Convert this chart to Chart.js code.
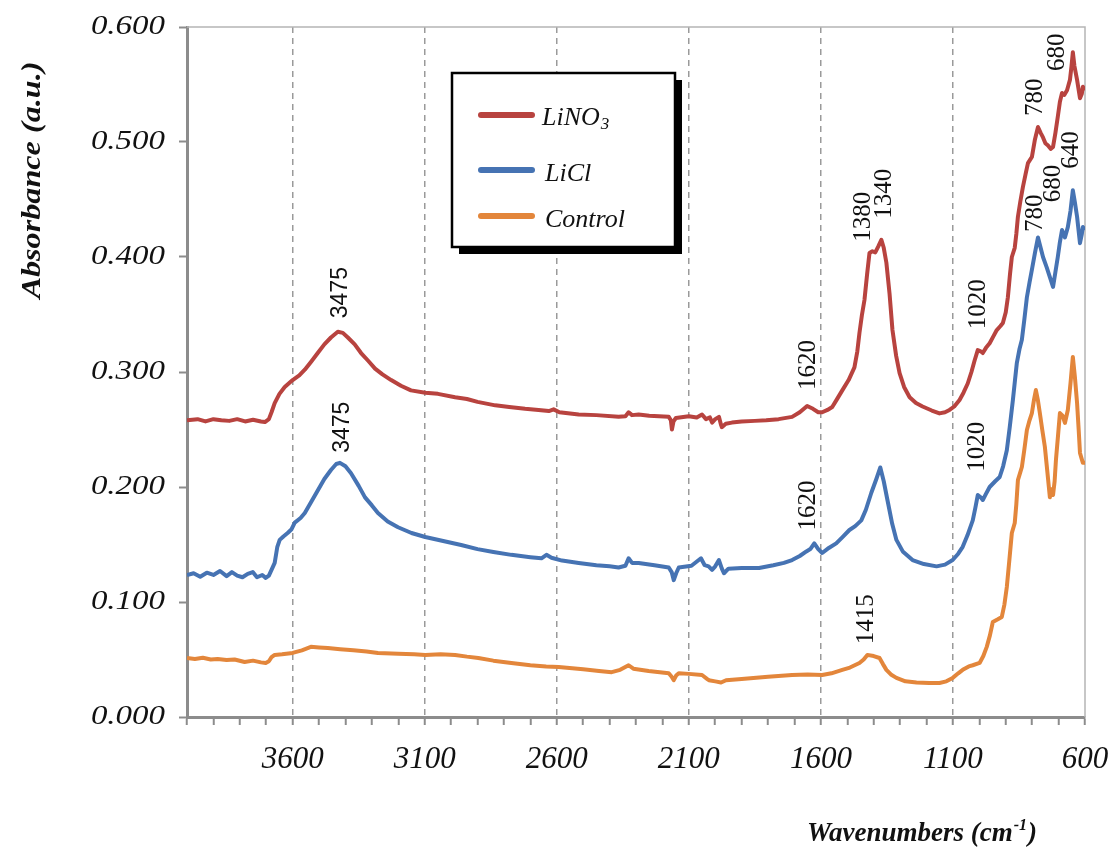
<!DOCTYPE html>
<html>
<head>
<meta charset="utf-8">
<script src="https://cdn.jsdelivr.net/npm/chart.js@4.4.1/dist/chart.umd.min.js"></script>
<style>
html,body{margin:0;padding:0;background:#fff;}
canvas{display:block;}
</style>
</head>
<body>
<canvas id="c" width="1113" height="857"></canvas>
<script>
// ---- Data ----
const seriesNames = ['LiNO3', 'LiCl', 'Control'];

const wnLiNO3 = [4000,3960,3930,3900,3870,3840,3810,3780,3750,3720,3705,3690,3680,3668,3650,3630,3600,3575,3554,3530,3505,3480,3455,3429,3410,3391,3365,3341,3315,3288,3260,3227,3190,3152,3098,3050,2985,2940,2900,2833,2780,2720,2669,2630,2612,2590,2517,2450,2366,2340,2328,2315,2290,2250,2176,2168,2164,2158,2149,2100,2070,2050,2035,2020,2012,2000,1986,1978,1975,1960,1937,1900,1850,1807,1760,1709,1680,1652,1630,1610,1595,1575,1557,1540,1519,1495,1473,1462,1454,1445,1435,1425,1416,1405,1394,1383,1371,1362,1352,1340,1329,1315,1302,1285,1264,1240,1215,1180,1151,1130,1113,1095,1075,1060,1044,1030,1018,1006,995,987,975,961,947,934,920,911,900,892,884,877,866,860,854,845,835,825,816,801,790,778,768,759,750,740,730,721,712,703,695,687,678,668,657,651,646,640,630,619,612,608,600];
const absLiNO3 = [.258,.259,.257,.259,.258,.2575,.259,.257,.2585,.257,.2565,.259,.265,.273,.281,.287,.293,.297,.302,.309,.3165,.324,.330,.335,.334,.330,.324,.3165,.310,.303,.298,.293,.288,.284,.282,.281,.278,.2765,.274,.271,.2695,.268,.267,.266,.2675,.265,.263,.2625,.261,.2615,.265,.2625,.263,.262,.261,.258,.250,.257,.260,.2615,.2605,.263,.259,.2605,.256,.259,.261,.254,.252,.255,.256,.257,.2575,.258,.259,.261,.265,.2705,.268,.265,.265,.267,.2695,.276,.284,.293,.304,.318,.334,.349,.3626,.385,.4035,.405,.404,.409,.415,.408,.395,.368,.3365,.314,.299,.287,.278,.273,.270,.2665,.264,.265,.267,.270,.2757,.282,.290,.300,.310,.319,.318,.3165,.321,.325,.331,.3365,.340,.3426,.352,.365,.385,.400,.408,.420,.435,.448,.461,.472,.4817,.487,.5017,.513,.508,.504,.499,.497,.494,.4957,.508,.522,.535,.5426,.541,.545,.554,.566,.578,.566,.554,.538,.542,.548,.545];

const wnLiCl = [4000,3975,3950,3925,3900,3875,3850,3830,3810,3790,3770,3751,3735,3715,3702,3690,3680,3668,3658,3649,3635,3619,3605,3592,3570,3554,3530,3505,3480,3455,3435,3421,3400,3379,3350,3326,3300,3277,3240,3201,3150,3098,3030,2962,2900,2840,2772,2700,2658,2639,2620,2580,2517,2450,2400,2366,2340,2328,2315,2290,2230,2176,2165,2157,2148,2138,2090,2054,2040,2025,2012,2000,1986,1975,1967,1950,1900,1834,1780,1740,1709,1680,1655,1640,1625,1610,1595,1570,1542,1520,1492,1470,1447,1430,1409,1390,1375,1362,1348,1330,1314,1290,1253,1210,1162,1130,1101,1080,1063,1045,1025,1015,1006,995,987,975,961,940,923,910,896,885,873,865,858,848,839,830,820,810,801,790,778,768,759,745,733,721,712,703,695,687,676,665,655,646,638,630,619,612,608,600];
const absLiCl = [.1235,.125,.122,.1255,.1235,.127,.1225,.126,.123,.1215,.1245,.126,.1215,.1235,.121,.123,.128,.134,.148,.154,.157,.160,.163,.169,.173,.1774,.187,.197,.207,.2148,.220,.221,.218,.212,.201,.191,.184,.1774,.170,.165,.160,.1565,.153,.1496,.146,.1435,.141,.139,.138,.141,.1385,.136,.134,.132,.131,.130,.1315,.138,.134,.134,.132,.130,.126,.119,.125,.130,.1315,.138,.132,.131,.128,.131,.1365,.129,.125,.129,.1295,.1296,.132,.134,.1365,.140,.144,.146,.151,.146,.1426,.147,.151,.156,.1626,.166,.171,.180,.195,.207,.217,.205,.1887,.168,.154,.144,.1365,.133,.131,.1325,.1365,.142,.148,.158,.171,.182,.193,.191,.1887,.194,.200,.205,.2087,.218,.232,.252,.2757,.293,.308,.320,.328,.345,.365,.378,.389,.403,.417,.408,.400,.391,.3826,.374,.387,.400,.413,.4235,.417,.426,.440,.458,.447,.435,.412,.420,.426,.4235];

const wnControl = [4000,3970,3940,3910,3884,3850,3820,3782,3750,3720,3702,3690,3680,3668,3640,3600,3565,3531,3500,3467,3420,3370,3320,3277,3200,3140,3098,3040,2985,2940,2897,2840,2772,2700,2640,2593,2500,2440,2392,2360,2328,2310,2252,2176,2165,2157,2148,2138,2100,2050,2030,2024,2000,1978,1959,1900,1800,1709,1650,1595,1560,1519,1490,1454,1438,1424,1400,1378,1365,1352,1335,1314,1280,1238,1190,1151,1125,1101,1080,1063,1040,1025,999,985,972,960,949,930,915,905,896,887,877,866,860,854,846,839,830,820,810,801,793,786,778,771,762,752,742,733,727,721,715,710,702,695,685,676,665,655,646,638,630,624,619,612,608,600];
const absControl = [.0513,.0505,.0515,.050,.0504,.0495,.050,.0478,.049,.0475,.047,.0485,.052,.054,.0545,.0557,.058,.061,.0605,.060,.059,.058,.057,.0557,.055,.0545,.054,.0545,.054,.0525,.0513,.049,.047,.045,.044,.0435,.0415,.040,.039,.041,.045,.042,.040,.038,.035,.032,.036,.038,.0375,.0365,.033,.032,.031,.030,.032,.033,.035,.0365,.037,.0365,.038,.041,.043,.047,.050,.054,.053,.0513,.046,.041,.037,.034,.031,.030,.0295,.0296,.031,.034,.038,.041,.044,.045,.047,.053,.061,.071,.0826,.085,.087,.098,.113,.135,.160,.1687,.185,.206,.212,.2174,.232,.2496,.258,.2643,.276,.2843,.275,.2643,.250,.235,.212,.191,.198,.193,.205,.2235,.245,.2643,.262,.2557,.267,.290,.313,.295,.273,.250,.2296,.224,.221,.221];

const xTickLabels = [3600, 3100, 2600, 2100, 1600, 1100, 600];
const xMinorTicks = [600,700,800,900,1000,1100,1200,1300,1400,1500,1600,1700,1800,1900,2000,2100,2200,2300,2400,2500,2600,2700,2800,2900,3000,3100,3200,3300,3400,3500,3600,3700,3800,3900,4000];
const yTickValues = [0, 0.1, 0.2, 0.3, 0.4, 0.5, 0.6];
const yTickLabels = ['0.000','0.100','0.200','0.300','0.400','0.500','0.600'];

// peak labels: [text, series, wavenumber, absorbance, fontKind]
const peakLabels = [
  ['3475', 'LiNO3', 3417, 0.369, 'sans'],
  ['3475', 'LiCl', 3410, 0.252, 'sans'],
  ['1620', 'LiNO3', 1648, 0.306, 'serif'],
  ['1620', 'LiCl', 1648, 0.184, 'serif'],
  ['1415', 'Control', 1428, 0.085, 'serif'],
  ['1020', 'LiCl', 1006, 0.235, 'serif'],
  ['1020', 'LiNO3', 1002, 0.359, 'serif'],
  ['1380', 'LiNO3', 1439, 0.435, 'serif'],
  ['1340', 'LiNO3', 1359, 0.455, 'serif'],
  ['780', 'LiNO3', 786, 0.539, 'serif'],
  ['680', 'LiNO3', 703, 0.578, 'serif'],
  ['780', 'LiCl', 786, 0.438, 'serif'],
  ['680', 'LiCl', 718, 0.464, 'serif'],
  ['640', 'LiCl', 653, 0.493, 'serif']
];

const colors = { LiNO3: '#B8433F', LiCl: '#4673B3', Control: '#E3863B' };

function pts(wn, ab) { return wn.map((w, i) => ({ x: w, y: ab[i] })); }

const AXIS_GRAY = '#8c8c8c';

const deco = {
  id: 'deco',
  beforeDatasetsDraw(chart) {
    const { ctx, chartArea: a } = chart;
    ctx.save();
    ctx.strokeStyle = '#b5b5b5';
    ctx.lineWidth = 1.5;
    ctx.beginPath();
    ctx.moveTo(a.left, a.top);
    ctx.lineTo(a.right, a.top);
    ctx.lineTo(a.right, a.bottom);
    ctx.stroke();
    ctx.restore();
  },
  afterDraw(chart) {
    const { ctx, chartArea: a } = chart;
    const xs = chart.scales.x, ys = chart.scales.y;
    ctx.save();
    // y tick labels (wide italic serif)
    ctx.fillStyle = '#111';
    ctx.textAlign = 'right';
    ctx.textBaseline = 'middle';
    ctx.font = 'italic 27px "Liberation Serif"';
    yTickValues.forEach((v, i) => {
      const py = ys.getPixelForValue(v);
      ctx.save();
      ctx.translate(a.left - 22, py);
      ctx.scale(1.22, 1);
      ctx.fillText(yTickLabels[i], 0, 0);
      ctx.restore();
    });
    // y title (stretched along its length)
    ctx.save();
    ctx.translate(33, 180);
    ctx.rotate(-Math.PI / 2);
    ctx.scale(1.15, 1);
    ctx.textAlign = 'center';
    ctx.textBaseline = 'middle';
    ctx.font = 'bold italic 28px "Liberation Serif"';
    ctx.fillText('Absorbance (a.u.)', 0, 0);
    ctx.restore();
    // x title with superscript
    ctx.textAlign = 'left';
    ctx.textBaseline = 'alphabetic';
    ctx.font = 'bold italic 27px "Liberation Serif"';
    let tx = 807, ty = 841;
    const t1 = 'Wavenumbers (cm';
    ctx.fillText(t1, tx, ty); tx += ctx.measureText(t1).width;
    ctx.font = 'bold italic 16px "Liberation Serif"';
    ctx.fillText('-1', tx + 1, ty - 11); tx += ctx.measureText('-1').width + 2;
    ctx.font = 'bold italic 27px "Liberation Serif"';
    ctx.fillText(')', tx, ty);
    // peak labels
    peakLabels.forEach(([txt, s, w, v, kind]) => {
      const px = xs.getPixelForValue(w), py = ys.getPixelForValue(v);
      ctx.save();
      ctx.translate(px, py);
      ctx.rotate(-Math.PI / 2);
      ctx.textAlign = 'center';
      ctx.textBaseline = 'middle';
      ctx.fillStyle = '#111';
      ctx.font = kind === 'sans' ? '23px "Liberation Sans"' : '25px "Liberation Serif"';
      ctx.fillText(txt, 0, 0);
      ctx.restore();
    });
    // legend box with shadow
    const bx = 452, by = 73, bw = 223, bh = 174;
    ctx.fillStyle = '#000';
    ctx.fillRect(bx + 7, by + 7, bw, bh);
    ctx.fillStyle = '#fff';
    ctx.fillRect(bx, by, bw, bh);
    ctx.strokeStyle = '#000';
    ctx.lineWidth = 2.5;
    ctx.strokeRect(bx, by, bw, bh);
    const rows = [['LiNO3', 115], ['LiCl', 170], ['Control', 216]];
    rows.forEach(([name, ly]) => {
      ctx.strokeStyle = colors[name];
      ctx.lineWidth = 6;
      ctx.lineCap = 'round';
      ctx.beginPath(); ctx.moveTo(481, ly); ctx.lineTo(532, ly); ctx.stroke();
      ctx.fillStyle = '#111';
      ctx.textAlign = 'left';
      ctx.textBaseline = 'middle';
      ctx.font = 'italic 26px "Liberation Serif"';
      if (name === 'LiNO3') {
        ctx.fillText('LiNO', 542, ly + 3);
        const w = ctx.measureText('LiNO').width;
        ctx.font = 'italic 17px "Liberation Serif"';
        ctx.fillText('3', 542 + w + 1, ly + 10);
      } else {
        ctx.fillText(name, 545, ly + 4);
      }
    });
    ctx.restore();
  }
};

new Chart(document.getElementById('c'), {
  type: 'line',
  data: {
    datasets: [
      { label: 'Control', data: pts(wnControl, absControl), borderColor: colors.Control },
      { label: 'LiCl', data: pts(wnLiCl, absLiCl), borderColor: colors.LiCl },
      { label: 'LiNO3', data: pts(wnLiNO3, absLiNO3), borderColor: colors.LiNO3 }
    ].map(d => Object.assign(d, { borderWidth: 4, pointRadius: 0, tension: 0, fill: false, borderJoinStyle: 'round' }))
  },
  options: {
    responsive: false,
    animation: false,
    events: [],
    layout: { padding: { top: 27, right: 28, left: 0, bottom: 0 } },
    plugins: { legend: { display: false }, tooltip: { enabled: false }, title: { display: false } },
    scales: {
      x: {
        type: 'linear',
        reverse: true,
        min: 600,
        max: 4000,
        afterBuildTicks: s => { s.ticks = xMinorTicks.map(v => ({ value: v })); },
        afterFit: s => { s.height = 140; },
        ticks: {
          autoSkip: false,
          maxRotation: 0,
          padding: 16,
          color: '#111',
          font: { family: '"Liberation Serif"', style: 'italic', size: 31 },
          callback: v => xTickLabels.includes(v) ? String(v) : ''
        },
        grid: {
          color: c => (c.tick && xTickLabels.includes(c.tick.value) && c.tick.value !== 600) ? '#9a9a9a' : 'rgba(0,0,0,0)',
          lineWidth: 1.5,
          drawTicks: true,
          tickLength: 8,
          tickColor: AXIS_GRAY,
          tickWidth: 2
        },
        border: { display: true, color: AXIS_GRAY, width: 3, dash: [6, 5] }
      },
      y: {
        type: 'linear',
        min: 0,
        max: 0.6,
        afterBuildTicks: s => { s.ticks = yTickValues.map(v => ({ value: v })); },
        afterFit: s => { s.width = 187; },
        ticks: { display: false },
        grid: { drawOnChartArea: false, drawTicks: true, tickLength: 8, tickColor: AXIS_GRAY, tickWidth: 2 },
        border: { display: true, color: AXIS_GRAY, width: 3 }
      }
    }
  },
  plugins: [deco]
});
</script>
</body>
</html>
